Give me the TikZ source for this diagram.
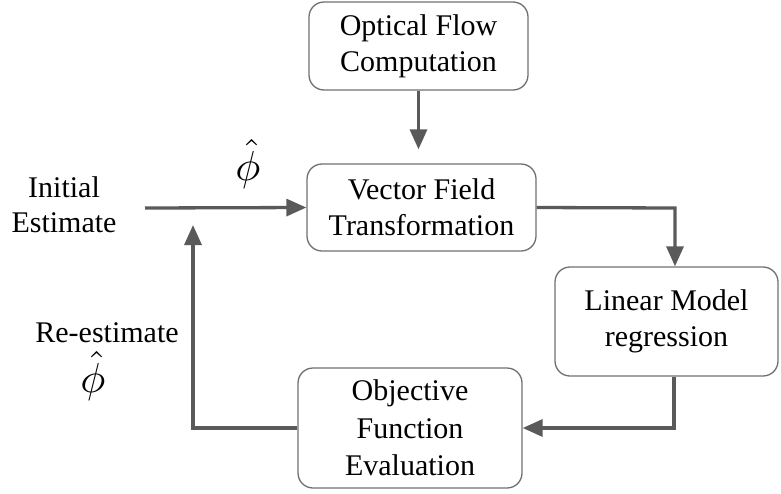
\documentclass[tikz,border=0pt]{standalone}
\usepackage{graphicx}
\usepackage{fontspec}
\setmainfont{Liberation Serif}
\usetikzlibrary{arrows.meta,calc}
\definecolor{conncol}{HTML}{5A5A5A}
\definecolor{boxcol}{HTML}{707070}
% estimate symbol
\newcommand{\phihat}{\scalebox{4.2}{$\hat{\phi}$}}
\tikzset{
  procbox/.style={draw=boxcol, line width=1.3pt, rounded corners=15pt,
    align=center, inner sep=0pt, font=\fontsize{30}{36}\selectfont},
  conn/.style={draw=conncol, line width=3.3pt,
    -{Triangle[length=20pt,width=17pt]}},
  lbl/.style={align=center, inner sep=0pt, font=\fontsize{30}{35}\selectfont},
}
\begin{document}
\begin{tikzpicture}[x=1pt,y=-1pt]
\useasboundingbox (0,0) rectangle (781,493);

% process boxes
\node[procbox, minimum width=219pt, minimum height=88pt] (opt) at (418.5,46) {Optical Flow\\Computation};
\node[procbox, minimum width=229pt, minimum height=87pt] (vf) at (421.5,207.5) {Vector Field\\Transformation};
\node[procbox, minimum width=223pt, minimum height=109pt] (lin) at (666.5,321.5) {Linear Model\\regression};
\node[procbox, minimum width=224pt, minimum height=120pt, font=\fontsize{30}{37.5}\selectfont] (obj) at (410,428) {Objective\\Function\\Evaluation};

% free labels
\node[lbl] (init) at (64,205) {Initial\\Estimate};
\node[inner sep=0pt] (phia) at (248,164) {\phihat};
\node[lbl] (reest) at (107,333) {Re-estimate};
\node[inner sep=0pt] (phib) at (93,376) {\phihat};

% routing points
\coordinate (istart) at (145,208);
\coordinate (c1) at (675,208);
\coordinate (c2) at (674,428);
\coordinate (c3) at (193,428);
\coordinate (c4) at (193,225);

% connectors
\draw[conn, shorten >=14pt] (opt.south) -- (opt.south |- vf.north);
\draw[conn] (istart) -- (vf.west);
\draw[conn] (vf.east) -- (c1) -- (c1 |- lin.north);
\draw[conn] (c2 |- lin.south) -- (c2) -- (obj.east);
\draw[conn] (obj.west) -- (c3) -- (c4);
\end{tikzpicture}
\end{document}
